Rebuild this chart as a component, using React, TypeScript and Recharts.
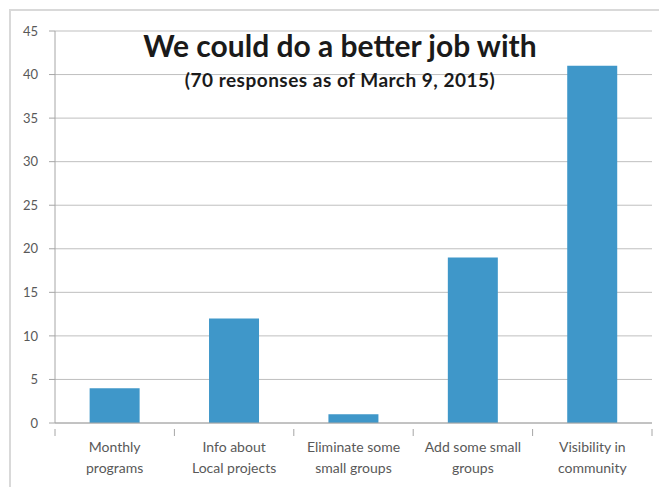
import React from 'react';
import { BarChart, Bar, XAxis, YAxis, CartesianGrid } from 'recharts';

const categories = [
  ['Monthly', 'programs'],
  ['Info about', 'Local projects'],
  ['Eliminate some', 'small groups'],
  ['Add some small', 'groups'],
  ['Visibility in', 'community'],
];
const responses = [4, 12, 1, 19, 41];
const yTicks = [0, 5, 10, 15, 20, 25, 30, 35, 40, 45];

const data = categories.map((lines, i) => ({ name: lines.join('\n'), value: responses[i] }));

const W = 659;
const H = 487;
const margin = { top: 31, right: 7, left: 0, bottom: 0 };
const yAxisWidth = 55;
const band = (W - margin.left - margin.right - yAxisWidth) / categories.length;

const font = 'Lato, "Open Sans", sans-serif';

const XTick = (props: any) => {
  const { x, y, payload, index } = props;
  const axisY = y - 2;
  const lines = String(payload.value).split('\n');
  return (
    <g>
      {index === 0 && <line x1={x - band / 2} x2={x - band / 2} y1={axisY} y2={axisY + 7} stroke="#a6a6a6" />}
      <line x1={x + band / 2} x2={x + band / 2} y1={axisY} y2={axisY + 7} stroke="#a6a6a6" />
      <text x={x} y={axisY + 23} textAnchor="middle" fill="#595959" fontSize={14} fontFamily={font}>
        {lines.map((l, i) => (
          <tspan key={i} x={x} dy={i === 0 ? 0 : 21}>{l}</tspan>
        ))}
      </text>
    </g>
  );
};

export default function App() {
  return (
    <div style={{ position: 'absolute', left: 0, top: 0, width: W, height: H, overflow: 'hidden', background: '#fff' }}>
      <div style={{ position: 'absolute', left: 9, top: 9, width: 700, height: 600, border: '2px solid #d9d9d9' }} />
      <BarChart width={W} height={H} data={data} margin={margin} barCategoryGap="29%">
        <CartesianGrid vertical={false} stroke="#bfbfbf" />
        <XAxis
          dataKey="name"
          stroke="#a6a6a6"
          tickLine={false}
          tick={<XTick />}
          interval={0}
          height={64}
        />
        <YAxis
          width={yAxisWidth}
          domain={[0, 45]}
          ticks={yTicks}
          stroke="#a6a6a6"
          tickSize={6}
          tickMargin={11}
          tick={{ fill: '#595959', fontSize: 13, fontFamily: font }}
          interval={0}
        />
        <Bar dataKey="value" fill="#3f97c9" isAnimationActive={false} />
      </BarChart>
      <div style={{ position: 'absolute', left: 55, width: 570, top: 27, textAlign: 'center', fontFamily: font, fontWeight: 700, fontSize: 30, color: '#1a1a1a' }}>
        We could do a better job with
      </div>
      <div style={{ position: 'absolute', left: 55, width: 570, top: 68, textAlign: 'center', fontFamily: font, fontWeight: 700, fontSize: 19, letterSpacing: 0.5, color: '#1a1a1a' }}>
        (70 responses as of March 9, 2015)
      </div>
    </div>
  );
}
